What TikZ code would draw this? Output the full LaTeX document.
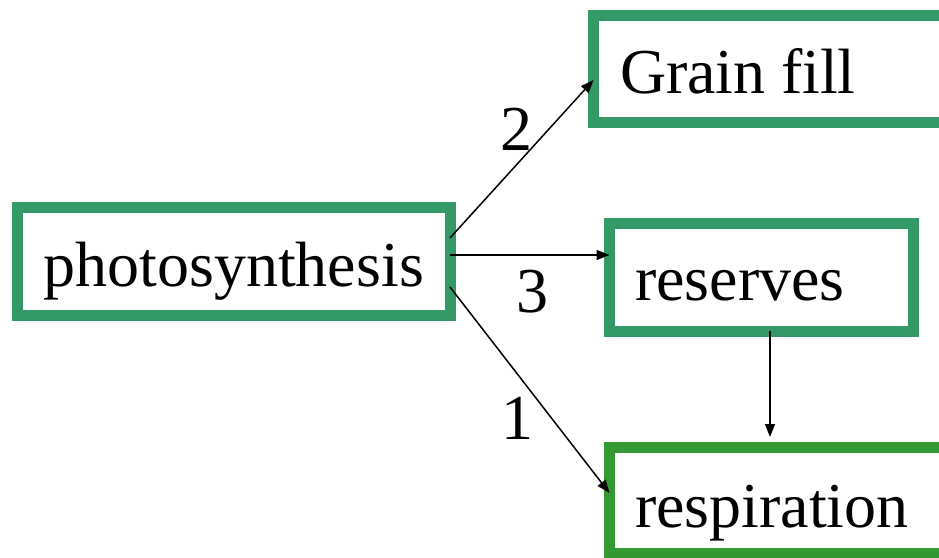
\documentclass[tikz,border=0pt]{standalone}
\usepackage{fontspec}
\setmainfont{Liberation Serif}
\usetikzlibrary{arrows.meta}
\definecolor{boxgreen}{RGB}{51,153,102}
\definecolor{respgreen}{RGB}{51,153,51}
\begin{document}
\begin{tikzpicture}[x=1pt,y=-1pt,
  box/.style={draw=boxgreen, line width=11pt, inner ysep=0pt, outer sep=0pt,
    text depth=0pt, font=\fontsize{64}{77}\selectfont, align=left},
  lbl/.style={inner sep=0pt, anchor=base, font=\fontsize{64}{77}\selectfont},
  arr/.style={line width=1.5pt, -{Triangle[length=13pt,width=10pt]}}]
\useasboundingbox (0,0) rectangle (939,557);
\clip (0,0) rectangle (939,557);
\node[box, anchor=center, inner xsep=0pt, minimum width=432.5pt, minimum height=108pt, text height=50pt, align=center] (ps) at (233.75,261) {photosynthesis};
\node[box, anchor=north west, inner xsep=26.5pt, text width=303.5pt, minimum height=107.5pt, text height=48.5pt] (gf) at (593.5,15) {Grain\hspace{-6pt} fill};
\node[box, anchor=north west, inner xsep=25.5pt, text width=253pt, minimum height=108pt, text height=46pt] (rs) at (609.5,223) {reserves};
\node[box, draw=respgreen, anchor=north west, inner xsep=25.5pt, text width=289.5pt, minimum height=106pt, text height=53pt] (resp) at (609.5,447.5) {respiration};
\draw[arr] ([yshift=23pt]ps.east) -- ([yshift=-11.25pt]gf.west);
\draw[arr] ([yshift=6pt]ps.east) -- ([yshift=22pt]rs.west);
\draw[arr] ([yshift=-26pt]ps.east) -- ([yshift=7.5pt]resp.west);
\draw[arr, shorten >=10.5pt] ([xshift=8.5pt]rs.south) -- ([xshift=8.5pt]rs.south |- resp.north);
\node[lbl] (l2) at (516,150) {2};
\node[lbl] (l3) at (532,312) {3};
\node[lbl] (l1) at (517,439) {1};
\end{tikzpicture}
\end{document}
